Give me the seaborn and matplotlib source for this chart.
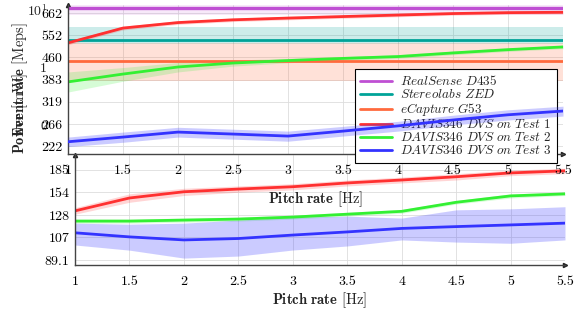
import numpy as np
import matplotlib
matplotlib.use("Agg")
import matplotlib.pyplot as plt
import seaborn as sns
from matplotlib.ticker import FixedLocator, NullFormatter

# pitch rate [Hz]
pitch = [1, 1.5, 2, 2.5, 3, 3.5, 4, 4.5, 5, 5.5]

# event rate [Meps] (frame cameras are constant reference lines)
realsense_ev = [692] * 10
realsense_lo = [651] * 10
realsense_hi = [735] * 10
zed_ev = [530] * 10
zed_lo = [512] * 10
zed_hi = [590] * 10
ecapture_ev = [446] * 10
ecapture_lo = [379] * 10
ecapture_hi = [518] * 10
test1_ev = [518, 585, 612, 626, 635, 643, 651, 659, 664, 666]
test1_ev_lo = [510, 576, 603, 617, 626, 634, 642, 650, 655, 657]
test1_ev_hi = [526, 594, 621, 635, 644, 652, 660, 668, 673, 675]
test2_ev = [376, 401, 425, 439, 448, 456, 463, 477, 490, 501]
test2_ev_lo = [346, 378, 408, 428, 440, 449, 456, 470, 483, 494]
test2_ev_hi = [408, 423, 441, 450, 456, 463, 470, 484, 497, 508]
test3_ev = [230, 239, 249, 245, 241, 251, 262, 275, 287, 296]
test3_ev_lo = [221, 229, 239, 235, 231, 241, 251, 264, 275, 284]
test3_ev_hi = [239, 249, 259, 255, 251, 261, 272, 286, 299, 308]

# power [mW]
test1_pw = [132.5, 147, 154.6, 158, 161, 166, 170, 174.5, 180, 183]
test1_pw_lo = [129, 142, 150, 154, 157, 162, 166, 170, 176, 179]
test1_pw_hi = [136, 152, 159, 162, 165, 170, 174, 179, 184, 187]
test2_pw = [122, 122, 123, 124, 126, 129, 132, 142, 149.5, 152]
test2_pw_lo = [120, 120, 121, 122, 124, 127, 130, 140, 147, 150]
test2_pw_hi = [124, 124, 125, 126, 128, 131, 134, 144, 152, 154]
test3_pw = [111, 107.4, 104.8, 106, 109, 111.8, 115, 116.7, 118.3, 120]
test3_pw_lo = [100.6, 96.5, 90.5, 92, 96.6, 99.8, 104.8, 103, 102, 104.8]
test3_pw_hi = [120, 119, 120, 123, 126, 127, 125, 133.6, 134.7, 137]

ev_ticks = [222, 266, 319, 383, 460, 552, 662]
pw_ticks = [89.1, 107, 128, 154, 185]
x_ticks = [1, 1.5, 2, 2.5, 3, 3.5, 4, 4.5, 5, 5.5]
labels = [r"$\mathit{RealSense\ D435}$", r"$\mathit{Stereolabs\ ZED}$",
          r"$\mathit{eCapture\ G53}$", r"$\mathit{DAVIS346\ DVS\ on\ Test\ 1}$",
          r"$\mathit{DAVIS346\ DVS\ on\ Test\ 2}$",
          r"$\mathit{DAVIS346\ DVS\ on\ Test\ 3}$"]

c_purple = "#BF4FD3"
c_teal = "#00A398"
c_orange = "#FF6A3D"
c_red = "#FF3030"
c_green = "#33F033"
c_blue = "#3333FF"

sns.set_style("white")
plt.rcParams["font.family"] = ["cmr10", "DejaVu Serif"]
plt.rcParams["mathtext.fontset"] = "cm"
plt.rcParams["axes.unicode_minus"] = False
plt.rcParams["font.size"] = 10

fig = plt.figure(figsize=(5.82, 3.22), dpi=100)
ax_pw = fig.add_axes([75 / 582, 1 - 265 / 322, 490 / 582, 110 / 322])
ax_ev = fig.add_axes([68 / 582, 1 - 154 / 322, 495 / 582, 149 / 322])
ax_gh = fig.add_axes([50 / 582, 1 - 154 / 322, 495 / 582, 149 / 322])


def style_axis(ax, yticks, ylim, ticklabels, xpad):
    ax.set_facecolor("none")
    ax.set_yscale("log")
    ax.set_xlim(1, 5.5)
    ax.set_ylim(*ylim)
    ax.set_xticks(x_ticks)
    ax.set_xticklabels([f"{t:g}" for t in x_ticks])
    ax.yaxis.set_major_locator(FixedLocator(yticks))
    ax.set_yticklabels(ticklabels)
    ax.yaxis.set_minor_formatter(NullFormatter())
    ax.grid(True, which="major", color="#dddddd", lw=0.6)
    for s in ["top", "right"]:
        ax.spines[s].set_visible(False)
    for s in ["left", "bottom"]:
        ax.spines[s].set_color("#444444")
        ax.spines[s].set_linewidth(1.0)
    ax.tick_params(direction="in", length=3, width=0.6, colors="#444444",
                   labelcolor="black", labelsize=10, pad=4)
    ax.tick_params(axis="x", pad=7.5)
    ax.tick_params(which="minor", direction="in", length=2, width=0.5,
                   colors="#444444")
    ax.plot(1, 0, ">", color="#222222", ms=3, transform=ax.transAxes,
            clip_on=False)
    ax.plot(0, 1, "^", color="#222222", ms=3, transform=ax.transAxes,
            clip_on=False)
    ax.set_xlabel(r"$\mathbf{Pitch\ rate}$ [Hz]", fontsize=10.5, labelpad=xpad)


def band_line(ax, y, lo, hi, color, lw=2.0, alpha=0.2, z=2):
    ax.fill_between(pitch, lo, hi, color=color, alpha=alpha, lw=0, zorder=z)
    sns.lineplot(x=pitch, y=y, ax=ax, color=color, lw=lw, zorder=z + 0.1,
                 legend=False)


# power axis (bottom)
band_line(ax_pw, test1_pw, test1_pw_lo, test1_pw_hi, c_red)
band_line(ax_pw, test2_pw, test2_pw_lo, test2_pw_hi, c_green)
band_line(ax_pw, test3_pw, test3_pw_lo, test3_pw_hi, c_blue, alpha=0.25)
style_axis(ax_pw, pw_ticks, (85.6, 208), ["89.1", "107", "128", "154", "185"], 2)
ax_pw.yaxis.set_minor_locator(FixedLocator(np.arange(90, 210, 10)))

# event rate axis (top)
band_line(ax_ev, realsense_ev, realsense_lo, realsense_hi, c_purple, lw=2.4, alpha=0.12)
band_line(ax_ev, zed_ev, zed_lo, zed_hi, c_teal)
band_line(ax_ev, ecapture_ev, ecapture_lo, ecapture_hi, c_orange)
band_line(ax_ev, test1_ev, test1_ev_lo, test1_ev_hi, c_red)
band_line(ax_ev, test2_ev, test2_ev_lo, test2_ev_hi, c_green)
band_line(ax_ev, test3_ev, test3_ev_lo, test3_ev_hi, c_blue, alpha=0.25, z=6)
style_axis(ax_ev, ev_ticks, (208, 707), [str(t) for t in ev_ticks], 9)
ax_ev.yaxis.set_minor_locator(FixedLocator(np.arange(210, 710, 15)))

handles = [plt.Line2D([], [], color=c, lw=2.0)
           for c in [c_purple, c_teal, c_orange, c_red, c_green, c_blue]]
leg = ax_ev.legend(handles, labels, loc="upper left",
                   bbox_to_anchor=(0.58, 0.57), borderaxespad=0,
                   fancybox=False, framealpha=1, edgecolor="black",
                   fontsize=9.5, labelspacing=0.0, handlelength=2.4,
                   borderpad=0.4, handletextpad=0.6)
leg.get_frame().set_linewidth(0.8)
leg.set_zorder(5)

# stray tick labels left over from a third axis
ax_gh.set_facecolor("none")
ax_gh.set_yscale("symlog", linthresh=1, linscale=0.916)
ax_gh.set_ylim(-0.5, 12.24)
ax_gh.set_yticks([0, 1, 10])
ax_gh.set_yticklabels(["0", "1", r"$10^1$"])
ax_gh.yaxis.set_minor_locator(FixedLocator([]))
ax_gh.set_xticks([])
for s in ax_gh.spines.values():
    s.set_visible(False)
ax_gh.tick_params(length=0, labelsize=10, pad=2)

fig.text(20 / 582, 1 - 80 / 322, r"$\mathbf{Event\ rate}$ [Meps]",
         rotation=90, ha="center", va="center", fontsize=10.5)
fig.text(20 / 582, 1 - 113 / 322, r"$\mathbf{Power}$ [mW]",
         rotation=90, ha="center", va="center", fontsize=10.5)

fig.savefig("out.png", dpi=100)
